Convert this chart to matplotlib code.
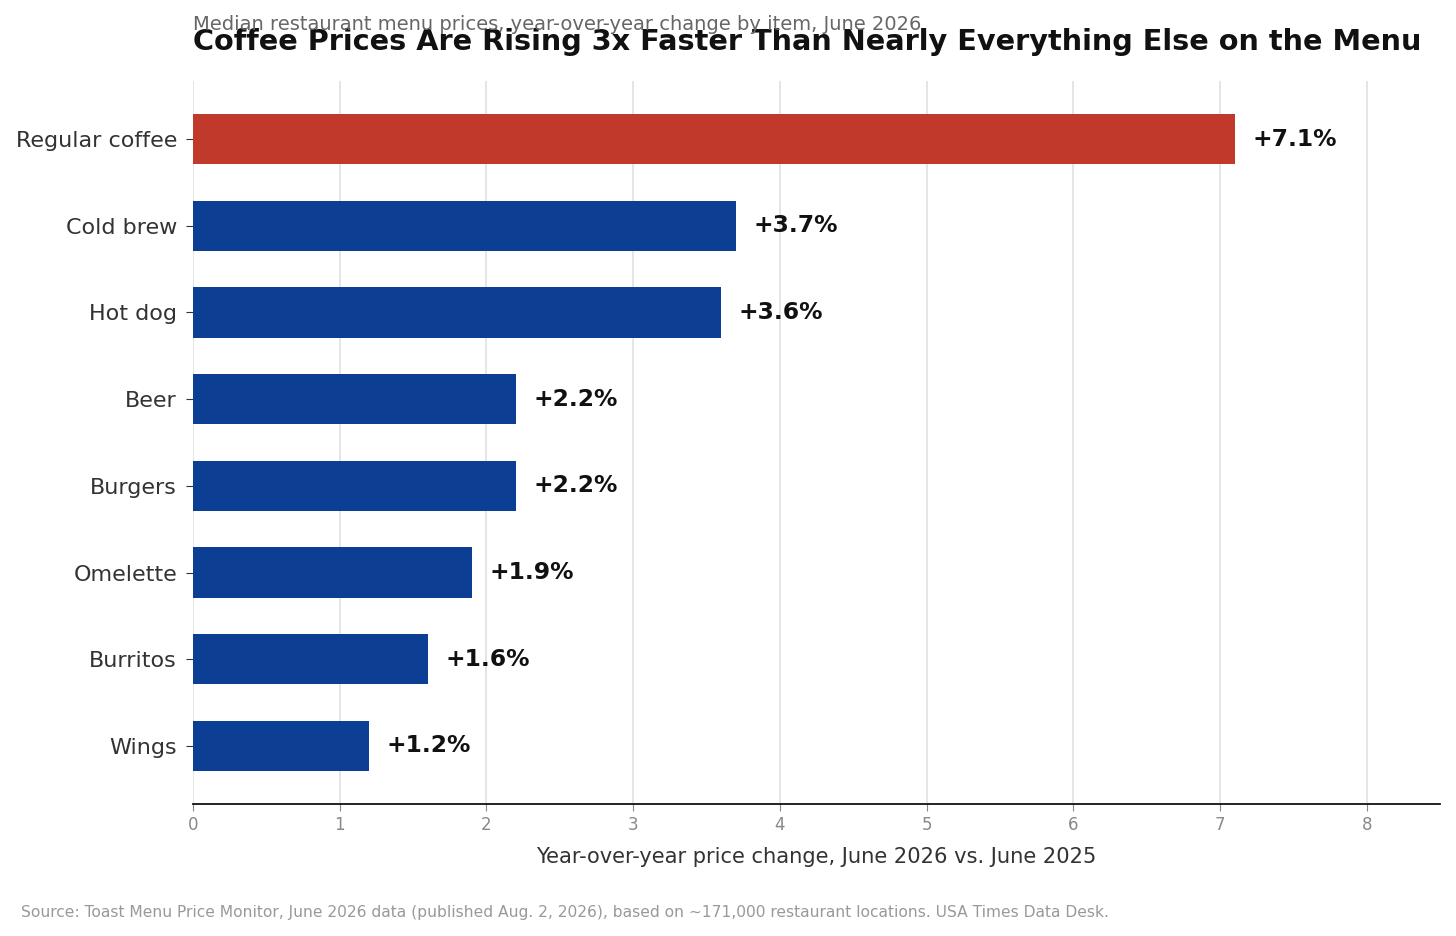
import matplotlib
matplotlib.use("Agg")
import matplotlib.pyplot as plt

items = ["Regular coffee", "Cold brew", "Hot dog", "Beer", "Burgers", "Omelette", "Burritos", "Wings"]
changes = [7.1, 3.7, 3.6, 2.2, 2.2, 1.9, 1.6, 1.2]
highlight = "Regular coffee"
xticks = [0, 1, 2, 3, 4, 5, 6, 7, 8]

RED = "#c0392b"
BLUE = "#0c3f94"

plt.rcParams['font.family'] = ['DejaVu Sans']
fig = plt.figure(figsize=(14.56, 9.36), dpi=100)
ax = fig.add_axes([193/1456, 1 - 804/936, (1440-193)/1456, (804-81)/936])

colors = [RED if it == highlight else BLUE for it in items]
ypos = list(range(len(items)))
ax.barh(ypos, changes, height=0.58, color=colors, zorder=3)
ax.set_yticks(ypos)
ax.set_yticklabels(items, fontsize=16, color="#333333")
ax.invert_yaxis()
ax.set_xlim(0, 8.5)
ax.set_xticks(xticks)
ax.set_xticklabels([str(t) for t in xticks], fontsize=12, color="#888888")
ax.tick_params(axis='x', color="#888888", length=5)
ax.tick_params(axis='y', color="#333333", length=5, pad=6.5)
ax.grid(axis='x', color="#e0e0e0", linewidth=1.2, zorder=0)
for s in ["top", "right", "left"]:
    ax.spines[s].set_visible(False)
ax.spines["bottom"].set_color("#111111")
ax.spines["bottom"].set_linewidth(1.3)

for y, v in zip(ypos, changes):
    ax.text(v + 0.12, y, f"+{v:.1f}%", va="center", ha="left",
            fontsize=16.8, fontweight="bold", color="#111111", zorder=4)

ax.set_xlabel("Year-over-year price change, June 2026 vs. June 2025", fontsize=15.15, color="#333333", labelpad=9.5)

fig.text(193/1456, 1 - 42/936, "Coffee Prices Are Rising 3x Faster Than Nearly Everything Else on the Menu",
         fontsize=20.7, fontweight="bold", color="#111111", ha="left", va="center")
fig.text(193/1456, 1 - 25/936, "Median restaurant menu prices, year-over-year change by item, June 2026",
         fontsize=14, color="#666666", ha="left", va="center")
fig.text(21/1456, 1 - 912/936,
         "Source: Toast Menu Price Monitor, June 2026 data (published Aug. 2, 2026), based on ~171,000 restaurant locations. USA Times Data Desk.",
         fontsize=11.15, color="#999999", ha="left", va="center")

fig.savefig("out.png", dpi=100)
